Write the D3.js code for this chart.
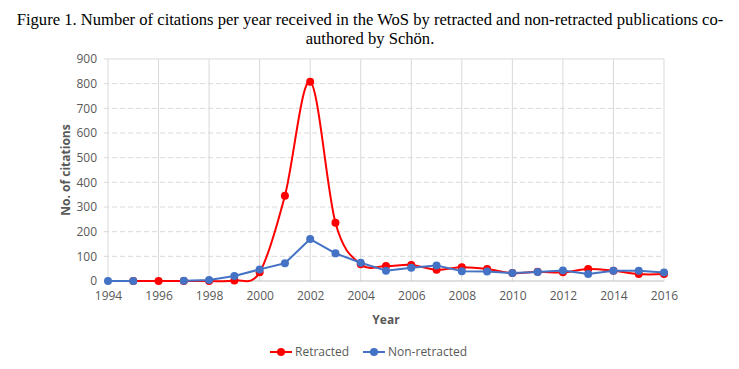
<!DOCTYPE html>
<html>
<head>
<meta charset="utf-8">
<script src="https://cdn.jsdelivr.net/npm/d3@7"></script>
<style>
  body { margin: 0; background: #fff; }
  svg { display: block; }
</style>
</head>
<body>
<div id="chart"></div>
<script>
  // data
  var years = [1994, 1995, 1996, 1997, 1998, 1999, 2000, 2001, 2002, 2003, 2004, 2005,
               2006, 2007, 2008, 2009, 2010, 2011, 2012, 2013, 2014, 2015, 2016];
  var retracted = [null, 0, 0, 0, 0, 2, 35, 346, 808, 236, 68, 61,
                   65, 46, 56, 49, 32, 37, 35, 49, 42, 28, 28];
  var nonRetracted = [0, 0, null, 1, 4, 20, 47, 72, 170, 112, 74, 42,
                      54, 63, 40, 39, 32, 36, 43, 28, 42, 42, 34];
  var yTicks = [0, 100, 200, 300, 400, 500, 600, 700, 800, 900];
  var xTicks = [1994, 1996, 1998, 2000, 2002, 2004, 2006, 2008, 2010, 2012, 2014, 2016];
  var seriesNames = ["Retracted", "Non-retracted"];
  var seriesColors = ["#ff0000", "#4472c4"];

  var W = 739, H = 369;
  var margin = {top: 59, right: 75, bottom: 88, left: 108};
  var width = W - margin.left - margin.right,
      height = H - margin.top - margin.bottom;

  var svg = d3.select("#chart").append("svg")
    .attr("width", W).attr("height", H);

  // title
  var title = svg.append("text")
    .attr("text-anchor", "middle")
    .style("font-family", "'Liberation Serif', 'Times New Roman', serif")
    .style("font-size", "16.6px")
    .attr("fill", "#000");
  title.append("tspan").attr("x", 370).attr("y", 25)
    .text("Figure 1. Number of citations per year received in the WoS by retracted and non-retracted publications co-");
  title.append("tspan").attr("x", 370).attr("y", 44)
    .text("authored by Schön.");

  var g = svg.append("g")
    .attr("transform", "translate(" + margin.left + "," + margin.top + ")");

  var x = d3.scaleLinear().domain([1994, 2016]).range([0, width]);
  var y = d3.scaleLinear().domain([0, 900]).range([height, 0]);

  // horizontal grid (dashed), top line solid
  g.selectAll(".hgrid").data(yTicks.filter(function(d) { return d > 0 && d < 900; }))
    .enter().append("line")
      .attr("x1", -4).attr("x2", width)
      .attr("y1", function(d) { return y(d); }).attr("y2", function(d) { return y(d); })
      .attr("stroke", "#d9d9d9").attr("stroke-dasharray", "5,3");
  g.append("line")
    .attr("x1", -4).attr("x2", width).attr("y1", y(900)).attr("y2", y(900))
    .attr("stroke", "#d9d9d9");

  // vertical grid
  g.selectAll(".vgrid").data(xTicks)
    .enter().append("line")
      .attr("x1", function(d) { return x(d); }).attr("x2", function(d) { return x(d); })
      .attr("y1", 0).attr("y2", height)
      .attr("stroke", "#d9d9d9");

  // baseline
  g.append("line")
    .attr("x1", -4).attr("x2", width).attr("y1", y(0)).attr("y2", y(0))
    .attr("stroke", "#bfbfbf");

  // axes
  var xAxis = g.append("g")
    .attr("transform", "translate(0," + height + ")")
    .call(d3.axisBottom(x).tickValues(xTicks).tickFormat(d3.format("d")).tickSize(0).tickPadding(10));
  var yAxis = g.append("g")
    .call(d3.axisLeft(y).tickValues(yTicks).tickSize(0).tickPadding(11));
  [xAxis, yAxis].forEach(function(a) {
    a.select(".domain").remove();
    a.selectAll("text")
      .style("font-family", "'Open Sans', sans-serif")
      .style("font-size", "12px")
      .attr("fill", "#595959");
  });

  // axis titles
  svg.append("text")
    .attr("x", margin.left + width / 2).attr("y", 324)
    .attr("text-anchor", "middle")
    .style("font-family", "'Open Sans', sans-serif")
    .style("font-size", "12px").style("font-weight", "bold")
    .attr("fill", "#595959")
    .text("Year");
  svg.append("text")
    .attr("transform", "translate(70," + (margin.top + height / 2) + ") rotate(-90)")
    .attr("text-anchor", "middle")
    .style("font-family", "'Open Sans', sans-serif")
    .style("font-size", "12px").style("font-weight", "bold")
    .attr("fill", "#595959")
    .text("No. of citations");

  // series
  var allSeries = [retracted, nonRetracted];
  var curves = [d3.curveCatmullRom.alpha(0), d3.curveLinear];
  allSeries.forEach(function(vals, i) {
    var pts = years.map(function(yr, j) { return {year: yr, v: vals[j]}; });
    var line = d3.line()
      .defined(function(d) { return d.v !== null; })
      .x(function(d) { return x(d.year); })
      .y(function(d) { return y(d.v); })
      .curve(curves[i]);
    g.append("path")
      .datum(pts)
      .attr("fill", "none")
      .attr("stroke", seriesColors[i])
      .attr("stroke-width", 2)
      .attr("stroke-linejoin", "round")
      .attr("d", line);
    g.selectAll(".pt" + i)
      .data(pts.filter(function(d) { return d.v !== null; }))
      .enter().append("circle")
        .attr("cx", function(d) { return x(d.year); })
        .attr("cy", function(d) { return y(d.v); })
        .attr("r", 4)
        .attr("fill", seriesColors[i]);
  });

  // legend
  var legendX = [270, 363];
  var leg = svg.append("g");
  seriesNames.forEach(function(name, i) {
    var lx = legendX[i];
    leg.append("line")
      .attr("x1", lx).attr("x2", lx + 22).attr("y1", 352).attr("y2", 352)
      .attr("stroke", seriesColors[i]).attr("stroke-width", 2);
    leg.append("circle")
      .attr("cx", lx + 11).attr("cy", 352).attr("r", 4)
      .attr("fill", seriesColors[i]);
    leg.append("text")
      .attr("x", lx + 25).attr("y", 356)
      .style("font-family", "'Open Sans', sans-serif")
      .style("font-size", "12px")
      .attr("fill", "#595959")
      .text(name);
  });
</script>
</body>
</html>
